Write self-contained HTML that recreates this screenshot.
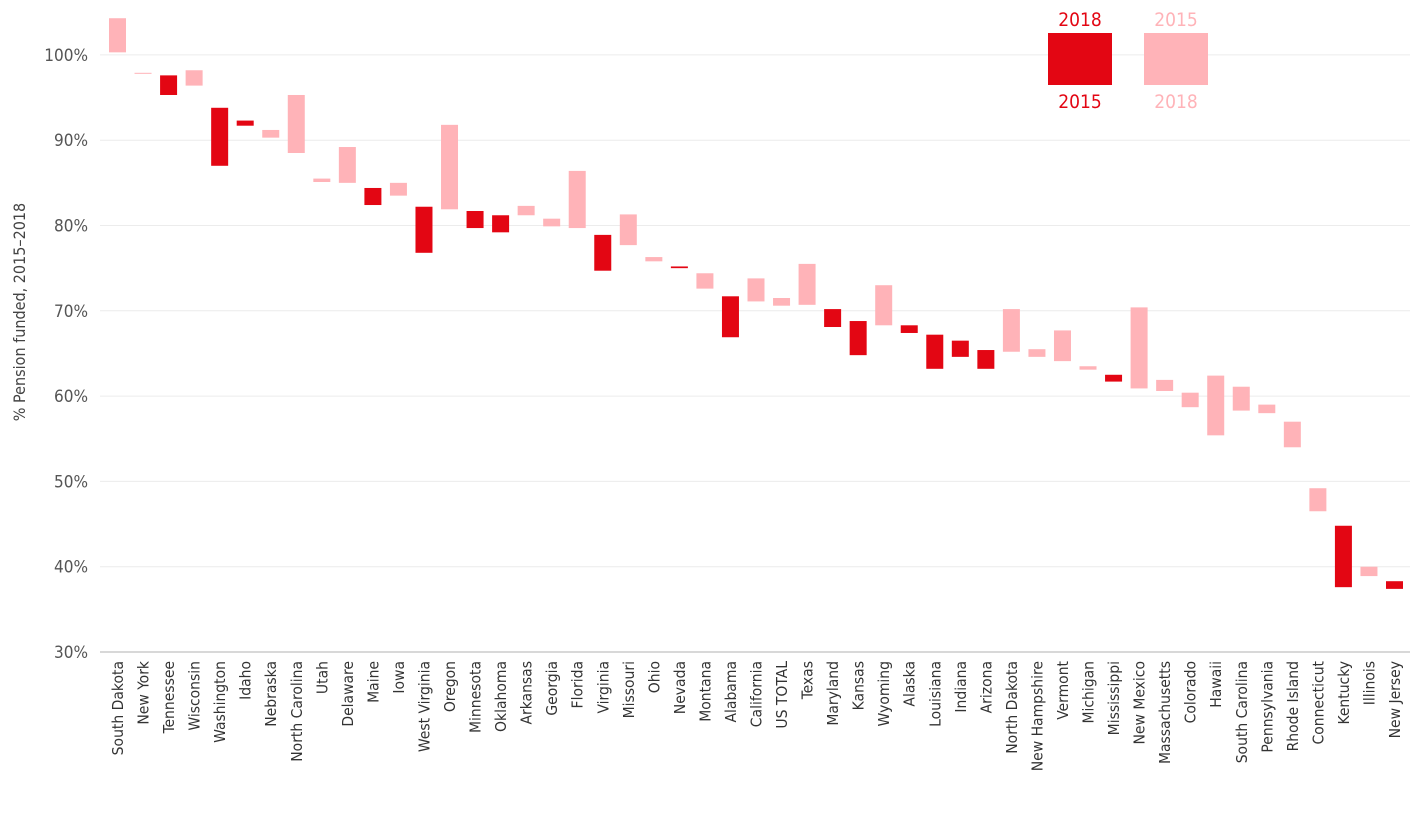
<!DOCTYPE html>
<html><head><meta charset="utf-8"><style>
body{margin:0;background:#fff;font-family:"DejaVu Sans Condensed","Liberation Sans",sans-serif;}
svg text{font-family:"DejaVu Sans Condensed","Liberation Sans",sans-serif;}
</style></head><body>
<svg id="chart" width="1410" height="809" xmlns="http://www.w3.org/2000/svg">
<g id="grid"></g>
<g id="yaxis"></g>
<text transform="translate(25,312) rotate(-90)" text-anchor="middle" font-size="16" fill="#444">% Pension funded, 2015–2018</text>
<g id="bars"></g>
<g id="xaxis"></g>
<g>
<text x="1080" y="26" text-anchor="middle" font-size="19" fill="#e30613">2018</text>
<rect x="1048" y="33" width="64" height="52" fill="#e30613"/>
<text x="1080" y="108" text-anchor="middle" font-size="19" fill="#e30613">2015</text>
<text x="1176" y="26" text-anchor="middle" font-size="19" fill="#ffb3b8">2015</text>
<rect x="1144" y="33" width="64" height="52" fill="#ffb3b8"/>
<text x="1176" y="108" text-anchor="middle" font-size="19" fill="#ffb3b8">2018</text>
</g>
</svg>
<script>
const states=["South Dakota","New York","Tennessee","Wisconsin","Washington","Idaho","Nebraska","North Carolina","Utah","Delaware","Maine","Iowa","West Virginia","Oregon","Minnesota","Oklahoma","Arkansas","Georgia","Florida","Virginia","Missouri","Ohio","Nevada","Montana","Alabama","California","US TOTAL","Texas","Maryland","Kansas","Wyoming","Alaska","Louisiana","Indiana","Arizona","North Dakota","New Hampshire","Vermont","Michigan","Mississippi","New Mexico","Massachusetts","Colorado","Hawaii","South Carolina","Pennsylvania","Rhode Island","Connecticut","Kentucky","Illinois","New Jersey"];
const funded2015=[104.3,97.9,95.3,98.2,87.0,91.7,91.2,95.3,85.5,89.2,82.4,85.0,76.8,91.8,79.7,79.2,82.3,80.8,86.4,74.7,81.3,76.3,75.0,74.4,66.9,73.8,71.5,75.5,68.1,64.8,73.0,67.4,63.2,64.6,63.2,70.2,65.5,67.7,63.5,61.7,70.4,61.9,60.4,62.4,61.1,59.0,57.0,49.2,37.6,40.0,37.4];
const funded2018=[100.3,97.8,97.6,96.4,93.8,92.3,90.3,88.5,85.1,85.0,84.4,83.5,82.2,81.9,81.7,81.2,81.2,79.9,79.7,78.9,77.7,75.8,75.2,72.6,71.7,71.1,70.6,70.7,70.2,68.8,68.3,68.3,67.2,66.5,65.4,65.2,64.6,64.1,63.1,62.5,60.9,60.6,58.7,55.4,58.3,58.0,54.0,46.5,44.8,38.9,38.3];
const yTicks=[30,40,50,60,70,80,90,100];
const NS="http://www.w3.org/2000/svg";
const y=v=>652-(v-30)*8.53;
const x=i=>117+i*25.54;
function mk(t,a,p){const e=document.createElementNS(NS,t);for(const k in a)e.setAttribute(k,a[k]);p.appendChild(e);return e;}
const grid=document.getElementById('grid'),ya=document.getElementById('yaxis'),bars=document.getElementById('bars'),xa=document.getElementById('xaxis');
yTicks.forEach(t=>{
 const l=mk('line',{x1:100,x2:1410,y1:y(t),y2:y(t),stroke:t===30?'#cccccc':'#ececec','stroke-width':t===30?1.5:1},grid);
 
 
 const tx=mk('text',{x:88,y:y(t)+6,'text-anchor':'end','font-size':17,fill:'#555'},ya);
 tx.textContent=t+'%';
 
 
});
states.forEach((s,i)=>{
 const a=funded2015[i],b=funded2018[i];
 const top=Math.max(a,b),bot=Math.min(a,b);
 const r=mk('rect',{x:x(i)-8,y:y(top),width:17,height:Math.max(1,y(bot)-y(top)),fill:b>a?'#e30613':'#ffb3b8'},bars);
 
 
 const tx=mk('text',{transform:`translate(${x(i)+6},661) rotate(-90)`,'text-anchor':'end','font-size':15.5,fill:'#333'},xa);
 tx.textContent=s;
 
 
});
</script>
</body></html>
